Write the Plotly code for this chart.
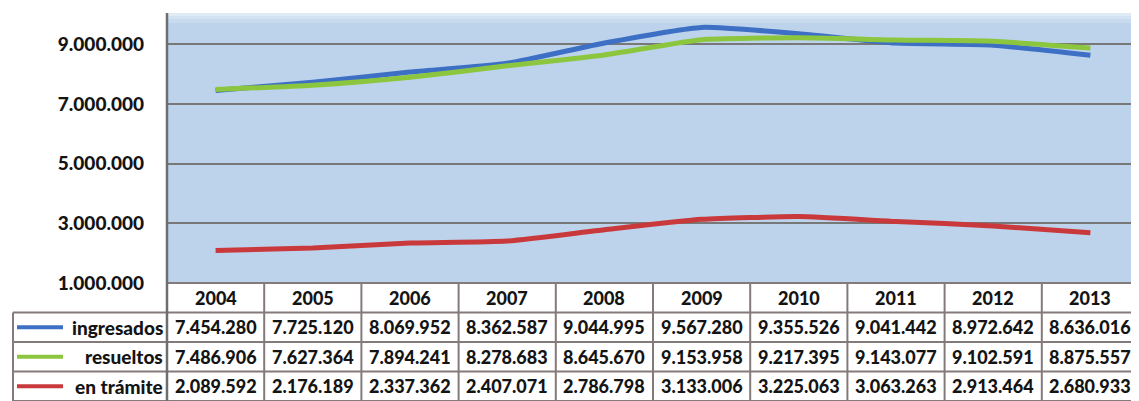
import plotly.graph_objects as go

years = ["2004", "2005", "2006", "2007", "2008", "2009", "2010", "2011", "2012", "2013"]
ingresados = [7454280, 7725120, 8069952, 8362587, 9044995, 9567280, 9355526, 9041442, 8972642, 8636016]
resueltos = [7486906, 7627364, 7894241, 8278683, 8645670, 9153958, 9217395, 9143077, 9102591, 8875557]
en_tramite = [2089592, 2176189, 2337362, 2407071, 2786798, 3133006, 3225063, 3063263, 2913464, 2680933]
series_names = ["ingresados", "resueltos", "en trámite"]
series_values = [ingresados, resueltos, en_tramite]
series_colors = ["#3d6fc4", "#8cc63e", "#c9393b"]
y_ticks = [1000000, 3000000, 5000000, 7000000, 9000000]


def fmt(v):
    return f"{v:,}".replace(",", ".")


# page body has an 8px margin; work in window pixels and convert
OFF = 8
W, H = 1139, 401
PL, PR, PT, PB = 167, 1139, 13, 283   # plot area in window px
ML, MR, MT, MB = PL - OFF, W - (PR - OFF), PT - OFF, H - (PB - OFF)
PH = PB - PT
PW = PR - PL


def py(Y):
    """window pixel Y -> paper y"""
    return (PB - Y) / PH


def px(X):
    return (X - PL) / PW


fig = go.Figure()
for name, vals, col in zip(series_names, series_values, series_colors):
    fig.add_trace(go.Scatter(
        x=years, y=vals, name=name, mode="lines",
        line=dict(color=col, width=5, shape="spline", smoothing=0.5),
        showlegend=False,
    ))

border = "#857a7a"
font_tbl = dict(family="Lato", size=18, color="#141414", weight=900)
font_lbl = dict(family="Lato", size=19, color="#141414", weight=900)

shapes = []
annotations = []

# soft light strip at top of plot area (gradient look)
for (y0, y1, op) in [(13, 16, 0.55), (16, 19, 0.35), (19, 23, 0.18)]:
    shapes.append(dict(type="rect", xref="paper", yref="paper", x0=0, x1=1,
                       y0=py(y1), y1=py(y0), fillcolor="white", opacity=op,
                       line=dict(width=0), layer="below"))

row_edges = [283, 312.5, 342, 371.5, 401]
# header top border (years only)
shapes.append(dict(type="line", xref="x", yref="paper", x0=-0.5, x1=len(years) - 0.5,
                   y0=py(row_edges[0]), y1=py(row_edges[0]), line=dict(color=border, width=2)))
# row borders spanning label column too
for Y in row_edges[1:]:
    shapes.append(dict(type="line", xref="paper", yref="paper", x0=px(13), x1=1,
                       y0=py(Y), y1=py(Y), line=dict(color=border, width=2)))
# left border of label column
shapes.append(dict(type="line", xref="paper", yref="paper", x0=px(13), x1=px(13),
                   y0=py(row_edges[1]), y1=py(row_edges[-1]), line=dict(color=border, width=2)))
# axis/left line from top of plot to table bottom
shapes.append(dict(type="line", xref="paper", yref="paper", x0=0, x1=0,
                   y0=1, y1=py(row_edges[-1]), line=dict(color="#6e6e6e", width=2.5)))
# column separators
for i in range(len(years)):
    shapes.append(dict(type="line", xref="x", yref="paper", x0=i + 0.5, x1=i + 0.5,
                       y0=py(row_edges[0]), y1=py(row_edges[-1]), line=dict(color=border, width=2)))

# header year labels
hc = (row_edges[0] + row_edges[1]) / 2
for i, yr in enumerate(years):
    annotations.append(dict(x=i, y=py(hc), xref="x", yref="paper", text=yr, showarrow=False,
                            font=font_tbl, xanchor="center", yanchor="middle"))

# data rows
for r, (name, vals, col) in enumerate(zip(series_names, series_values, series_colors)):
    yc = py((row_edges[r + 1] + row_edges[r + 2]) / 2)
    shapes.append(dict(type="line", xref="paper", yref="paper", x0=px(17), x1=px(63),
                       y0=yc, y1=yc, line=dict(color=col, width=4)))
    annotations.append(dict(x=px(165), y=yc, xref="paper", yref="paper", text=name,
                            showarrow=False, font=font_lbl, xanchor="right", yanchor="middle"))
    for i, v in enumerate(vals):
        annotations.append(dict(x=i, y=yc, xref="x", yref="paper", text=fmt(v), showarrow=False,
                                font=font_tbl, xanchor="center", yanchor="middle"))

fig.update_layout(
    width=W, height=H,
    margin=dict(l=ML, r=MR, t=MT, b=MB, pad=0),
    paper_bgcolor="white",
    plot_bgcolor="#bcd3eb",
    shapes=shapes,
    annotations=annotations,
    xaxis=dict(type="category", range=[-0.5, len(years) - 0.5], showticklabels=False,
               showgrid=False, zeroline=False, showline=False, ticks=""),
    yaxis=dict(range=[1000000, 10050000], tickvals=y_ticks, ticktext=[fmt(v) for v in y_ticks],
               showgrid=True, gridcolor="#787878", gridwidth=2, zeroline=False,
               showline=False, ticks="", ticklabelstandoff=22,
               tickfont=dict(family="Lato", size=19, color="#141414", weight=900)),
)

fig.write_html("out.html")
